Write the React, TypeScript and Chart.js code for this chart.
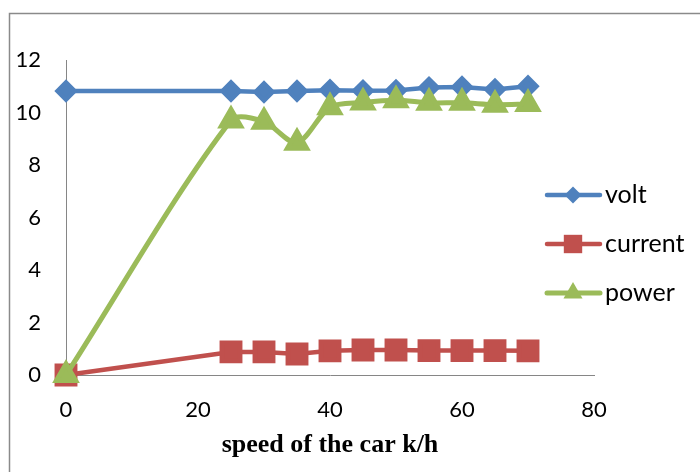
import React, { useEffect, useRef } from "react";
import { Chart, registerables } from "chart.js";
import { drawPoint } from "chart.js/helpers";

Chart.register(...registerables);

const speeds = [0, 25, 30, 35, 40, 45, 50, 55, 60, 65, 70];
const volt = [10.82, 10.82, 10.78, 10.82, 10.85, 10.83, 10.84, 10.95, 10.97, 10.88, 11.0];
const current = [0, 0.88, 0.88, 0.8, 0.92, 0.95, 0.95, 0.93, 0.93, 0.93, 0.92];
const power = [0, 9.7, 9.65, 8.85, 10.2, 10.38, 10.47, 10.37, 10.37, 10.3, 10.32];
const yTicks = [0, 2, 4, 6, 8, 10, 12];
const xTicks = [0, 20, 40, 60, 80];

const FONT = "Lato";

const frameAndLegend = {
  id: "frameAndLegend",
  beforeDraw(chart: any) {
    const ctx = chart.ctx;
    ctx.save();
    ctx.fillStyle = "#ffffff";
    ctx.fillRect(0, 0, chart.width, chart.height);
    ctx.strokeStyle = "#8a8a8a";
    ctx.lineWidth = 1.5;
    ctx.strokeRect(9.5, 13.5, 900, 700);
    ctx.restore();
  },
  afterDraw(chart: any) {
    const ctx = chart.ctx;
    ctx.save();
    const rows = [195, 244, 293];
    chart.data.datasets.forEach((ds: any, i: number) => {
      const y = rows[i];
      ctx.strokeStyle = ds.borderColor;
      ctx.lineWidth = ds.borderWidth;
      ctx.lineCap = "round";
      ctx.beginPath();
      ctx.moveTo(547, y);
      ctx.lineTo(600, y);
      ctx.stroke();
      ctx.fillStyle = ds.pointBackgroundColor;
      ctx.strokeStyle = ds.pointBackgroundColor;
      drawPoint(ctx, { pointStyle: ds.pointStyle, radius: ds.pointRadius, rotation: 0, borderWidth: 0 }, 573, y);
      ctx.fillStyle = "#000000";
      ctx.font = `25px ${FONT}`;
      ctx.textBaseline = "middle";
      ctx.textAlign = "left";
      ctx.fillText(ds.label, 605, y);
    });
    ctx.restore();
  },
};

export default function App() {
  const ref = useRef<HTMLCanvasElement>(null);
  useEffect(() => {
    if (!ref.current) return;
    const chart = new Chart(ref.current, {
      type: "line",
      data: {
        datasets: [
          {
            label: "volt",
            data: speeds.map((x, i) => ({ x, y: volt[i] })),
            borderColor: "#4F81BD",
            backgroundColor: "#4F81BD",
            pointBackgroundColor: "#4F81BD",
            pointBorderColor: "#4F81BD",
            pointStyle: "rectRot",
            pointRadius: 8.5,
            borderWidth: 4.5,
            tension: 0,
            order: 3,
          },
          {
            label: "current",
            data: speeds.map((x, i) => ({ x, y: current[i] })),
            borderColor: "#C0504D",
            backgroundColor: "#C0504D",
            pointBackgroundColor: "#C0504D",
            pointBorderColor: "#C0504D",
            pointStyle: "rect",
            pointRadius: 13,
            borderWidth: 4.5,
            tension: 0,
            order: 2,
          },
          {
            label: "power",
            data: speeds.map((x, i) => ({ x, y: power[i] })),
            borderColor: "#9BBB59",
            backgroundColor: "#9BBB59",
            pointBackgroundColor: "#9BBB59",
            pointBorderColor: "#9BBB59",
            pointStyle: "triangle",
            pointRadius: 11,
            borderWidth: 5,
            tension: 0.3,
            order: 1,
          },
        ] as any,
      },
      options: {
        animation: false,
        responsive: false,
        maintainAspectRatio: false,
        clip: false as any,
        layout: { padding: { top: 60, right: 106, bottom: 0, left: 0 } },
        plugins: { legend: { display: false }, tooltip: { enabled: false } },
        scales: {
          x: {
            type: "linear",
            min: 0,
            max: 80,
            afterBuildTicks: (s: any) => {
              s.ticks = xTicks.map((v) => ({ value: v }));
            },
            afterFit: (s: any) => {
              s.height = 97;
            },
            grid: { display: false, drawTicks: false },
            border: { display: true, color: "#868686", width: 1 },
            ticks: { color: "#000", font: { family: FONT, size: 22 }, padding: 22 },
            title: {
              display: true,
              text: "speed of the car k/h",
              color: "#000",
              font: { family: "Liberation Serif", size: 26, weight: "bold" },
              padding: { top: 0, bottom: 11 },
            },
          },
          y: {
            type: "linear",
            min: 0,
            max: 12,
            afterBuildTicks: (s: any) => {
              s.ticks = yTicks.map((v) => ({ value: v }));
            },
            afterFit: (s: any) => {
              s.width = 66;
            },
            grid: { display: false, drawTicks: false },
            border: { display: true, color: "#868686", width: 1 },
            ticks: { color: "#000", font: { family: FONT, size: 22 }, padding: 25 },
          },
        },
      },
      plugins: [frameAndLegend],
    });
    return () => chart.destroy();
  }, []);
  return (
    <div style={{ position: "fixed", left: 0, top: 0, width: 700, height: 472, background: "#fff" }}>
      <canvas ref={ref} width={700} height={472} style={{ width: 700, height: 472 }} />
    </div>
  );
}
